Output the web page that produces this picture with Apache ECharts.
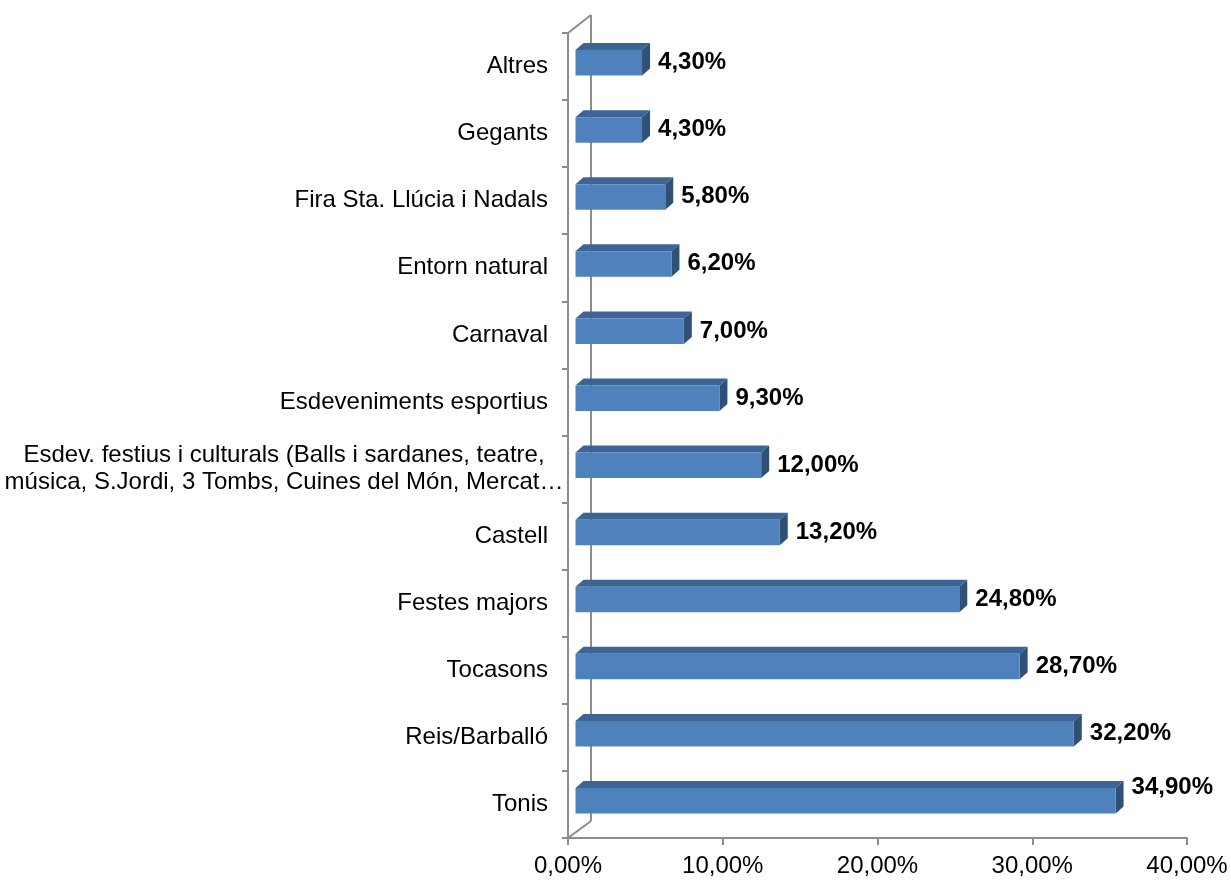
<!DOCTYPE html>
<html>
<head>
<meta charset="utf-8">
<script src="https://cdn.jsdelivr.net/npm/echarts@6/dist/echarts.min.js"></script>
<style>
  html, body { margin: 0; padding: 0; background: #fff; }
  #main { width: 1231px; height: 880px; }
</style>
</head>
<body>
<div id="main"></div>
<script>
// categories from bottom to top
var categories = [
    'Tonis',
    'Reis/Barballó',
    'Tocasons',
    'Festes majors',
    'Castell',
    'Esdev. festius i culturals (Balls i sardanes, teatre,\nmúsica, S.Jordi, 3 Tombs, Cuines del Món, Mercat…',
    'Esdeveniments esportius',
    'Carnaval',
    'Entorn natural',
    'Fira Sta. Llúcia i Nadals',
    'Gegants',
    'Altres'
];
var values = [34.9, 32.2, 28.7, 24.8, 13.2, 12.0, 9.3, 7.0, 6.2, 5.8, 4.3, 4.3];
var xTicks = [0, 10, 20, 30, 40];

var FONT = '"Liberation Sans", Arial, sans-serif';
var AXIS_GRAY = '#8c8c8c';

function pct(v) {
    return v.toFixed(2).replace('.', ',') + '%';
}

var measureCtx = document.createElement('canvas').getContext('2d');
measureCtx.font = 'bold 24px ' + FONT;

var myChart = echarts.init(document.getElementById('main'));

// 3D-ish bar: front face, top face, right side face
function renderBar(params, api) {
    var v = api.value(0), i = api.value(1);
    var p0 = api.coord([0, i]);
    var p1 = api.coord([v, i]);
    var c = p0[1];
    var dx = 8, dy = -7;
    var x0 = p0[0] + 7.5, x1 = p1[0] + 7.5;
    var yT = c - 16.5, yB = c + 9;
    var txt = pct(v);
    var tx = x1 + dx + 8;
    var ty = c - 4;
    var cs = params.coordSys;
    if (tx + measureCtx.measureText(txt).width > cs.x + cs.width) {
        ty = c - 17;
    }
    return {
        type: 'group',
        children: [
            {
                type: 'polygon',
                shape: { points: [[x0, yT], [x0 + dx, yT + dy], [x1 + dx, yT + dy], [x1, yT]] },
                style: { fill: '#3c6495' }
            },
            {
                type: 'polygon',
                shape: { points: [[x1, yT], [x1 + dx, yT + dy], [x1 + dx, yB + dy], [x1, yB]] },
                style: { fill: '#2f5077' }
            },
            {
                type: 'rect',
                shape: { x: x0, y: yT, width: x1 - x0, height: yB - yT },
                style: { fill: '#4f81bd' }
            },
            {
                type: 'text',
                x: tx,
                y: ty,
                style: {
                    text: txt,
                    fill: '#000',
                    font: 'bold 24px ' + FONT,
                    verticalAlign: 'middle',
                    align: 'left'
                }
            }
        ]
    };
}

// back wall edge lines
function renderWall(params, api) {
    var cs = params.coordSys;
    var dx = 23, dy = -17;
    var xl = cs.x, yt = cs.y, yb = cs.y + cs.height;
    var ls = { stroke: AXIS_GRAY, lineWidth: 2, fill: null };
    return {
        type: 'group',
        children: [
            { type: 'line', shape: { x1: xl, y1: yt, x2: xl + dx, y2: yt + dy - 1 }, style: ls },
            { type: 'line', shape: { x1: xl + dx, y1: yt + dy - 1, x2: xl + dx, y2: yb + dy }, style: ls },
            { type: 'line', shape: { x1: xl, y1: yb, x2: xl + dx, y2: yb + dy }, style: ls }
        ]
    };
}

var barData = values.map(function (v, i) { return [v, i]; });

var option = {
    backgroundColor: '#fff',
    animation: false,
    grid: { left: 568, right: 44, top: 33, bottom: 42, containLabel: false },
    xAxis: {
        type: 'value',
        min: xTicks[0],
        max: xTicks[xTicks.length - 1],
        interval: 10,
        axisLine: { show: true, lineStyle: { color: AXIS_GRAY, width: 2 } },
        axisTick: { show: true, length: 7, lineStyle: { color: AXIS_GRAY, width: 2 } },
        splitLine: { show: false },
        axisLabel: {
            color: '#000',
            fontSize: 24,
            fontFamily: FONT,
            margin: 16,
            formatter: function (v) { return pct(v); }
        }
    },
    yAxis: {
        type: 'category',
        data: categories,
        axisLine: { show: true, lineStyle: { color: AXIS_GRAY, width: 2 } },
        axisTick: { show: true, length: 6, lineStyle: { color: AXIS_GRAY, width: 2 } },
        splitLine: { show: false },
        axisLabel: {
            color: '#000',
            fontSize: 24,
            fontFamily: FONT,
            margin: 6,
            lineHeight: 27,
            formatter: function (v) {
                if (v.indexOf('\n') >= 0) {
                    return v.split('\n').map(function (s) { return '{w|' + s + '}'; }).join('\n');
                }
                return '{n|' + v + '}';
            },
            rich: {
                n: { padding: [0, 14, 0, 0], fontSize: 24, fontFamily: FONT, color: '#000' },
                w: { width: 556, align: 'center', fontSize: 24, fontFamily: FONT, color: '#000', lineHeight: 27 }
            }
        }
    },
    series: [
        {
            type: 'custom',
            renderItem: renderWall,
            data: [[0, 0]],
            z: 1,
            silent: true
        },
        {
            type: 'custom',
            renderItem: renderBar,
            encode: { x: 0, y: 1 },
            data: barData,
            z: 2
        }
    ]
};

myChart.setOption(option);
</script>
</body>
</html>
